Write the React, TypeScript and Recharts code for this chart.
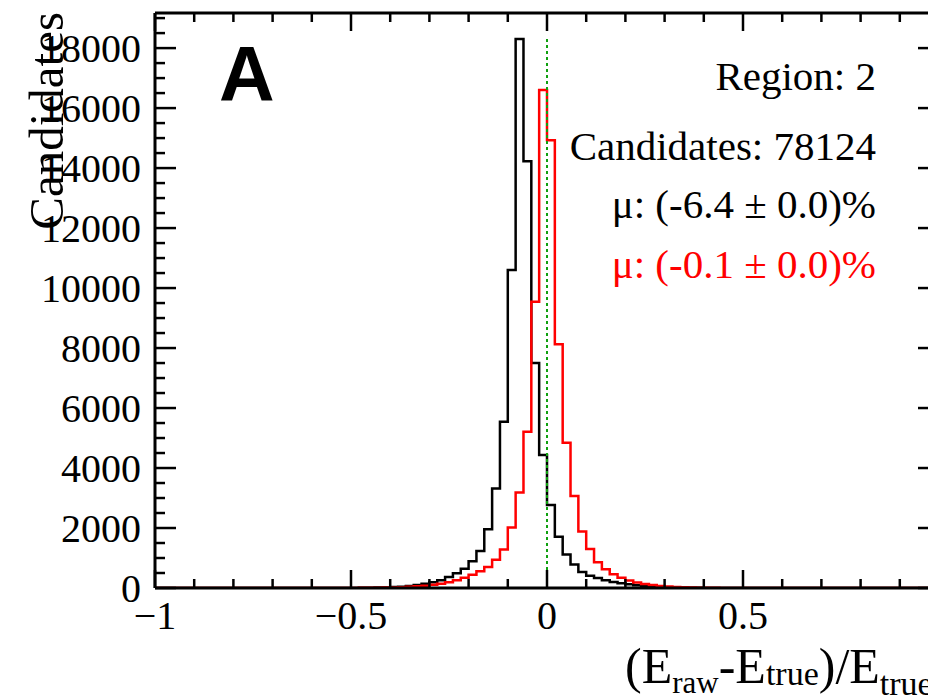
import { ComposedChart, Line, XAxis, YAxis, ReferenceLine } from "recharts";

const SERIF = "'Liberation Serif', 'Times New Roman', serif";
const SANS = "'Liberation Sans', Arial, sans-serif";

// 100 bins of width 0.02 between -1 and 1
const BIN_START = -1;
const BIN_WIDTH = 0.02;

// raw energy (black)
const rawCounts = [
    0, 0, 0, 0, 0, 0, 0, 0, 0, 0,
    0, 0, 0, 0, 0, 0, 0, 0, 0, 0,
    0, 0, 0, 1, 2, 3, 5, 8, 13, 20,
    30, 45, 70, 100, 140, 190, 260, 370, 490, 645,
    890, 1230, 1960, 3320, 5540, 10600, 18300, 14230, 7500, 4430,
    2770, 1710, 1120, 780, 530, 410, 330, 260, 200, 160,
    125, 95, 70, 50, 36, 25, 18, 12, 8, 5,
    3, 2, 1, 0, 0, 0, 0, 0, 0, 0,
    0, 0, 0, 0, 0, 0, 0, 0, 0, 0,
    0, 0, 0, 0, 0, 0, 0, 0, 0, 0,
];

// corrected energy (red)
const correctedCounts = [
    0, 0, 0, 0, 0, 0, 0, 0, 0, 0,
    0, 0, 0, 0, 0, 0, 0, 0, 0, 0,
    0, 0, 0, 1, 2, 3, 5, 7, 10, 14,
    20, 28, 40, 56, 78, 105, 145, 195, 260, 340,
    440, 560, 700, 940, 1280, 2020, 3180, 5210, 9540, 16600,
    14930, 8130, 4840, 3070, 1880, 1300, 860, 622, 460, 344,
    250, 180, 133, 100, 70, 50, 35, 25, 18, 12,
    8, 5, 3, 2, 1, 0, 0, 0, 0, 0,
    0, 0, 0, 0, 0, 0, 0, 0, 0, 0,
    0, 0, 0, 0, 0, 0, 0, 0, 0, 0,
];

const X_TICKS = [-1, -0.9, -0.8, -0.7, -0.6, -0.5, -0.4, -0.3, -0.2, -0.1, 0, 0.1, 0.2, 0.3, 0.4, 0.5, 0.6, 0.7, 0.8, 0.9, 1];
const X_LABELS: Record<string, string> = { "-1": "\u22121", "-0.5": "\u22120.5", "0": "0", "0.5": "0.5", "1": "1" };
const Y_MAX = 19170;
const Y_MINOR_STEP = 500;
const Y_LABELS = [0, 2000, 4000, 6000, 8000, 10000, 12000, 14000, 16000, 18000];
const Y_TICKS: number[] = [];
for (let v = 0; v <= Y_MAX; v += Y_MINOR_STEP) Y_TICKS.push(v);

const INFO_LINES = [
    { text: "Region: 2", color: "#000" },
    { text: "Candidates: 78124", color: "#000" },
    { text: "\u03bc: (-6.4 \u00b1 0.0)%", color: "#000" },
    { text: "\u03bc: (-0.1 \u00b1 0.0)%", color: "#ff0000" },
];
const INFO_BASELINES = [90, 160, 218, 278];

const histData = rawCounts.map((v, i) => ({
    x: +(BIN_START + i * BIN_WIDTH).toFixed(2),
    raw: v,
    corr: correctedCounts[i],
}));
// closing edge so the last step reaches x = 1
histData.push({ x: 1, raw: rawCounts[rawCounts.length - 1], corr: correctedCounts[correctedCounts.length - 1] });

const peak = Math.max(...rawCounts);
const TICK_W = 2.5;

function BottomTick({ x, y, payload }: any) {
    const label = X_LABELS[String(payload.value)];
    const len = label !== undefined ? 18 : 9;
    return (
        <g>
            <line x1={x} y1={y} x2={x} y2={y - len} stroke="#000" strokeWidth={TICK_W} />
            {label !== undefined && (
                <text x={x} y={y + 41} textAnchor="middle" fontSize={40} fontFamily={SERIF} fill="#000">
                    {label}
                </text>
            )}
        </g>
    );
}

function TopTick({ x, y, payload }: any) {
    const len = X_LABELS[String(payload.value)] !== undefined ? 18 : 9;
    return <line x1={x} y1={y} x2={x} y2={y + len} stroke="#000" strokeWidth={TICK_W} />;
}

function LeftTick({ x, y, payload }: any) {
    const major = Y_LABELS.includes(payload.value);
    return (
        <g>
            <line x1={x} y1={y} x2={x + (major ? 21 : 10)} y2={y} stroke="#000" strokeWidth={TICK_W} />
            {major && (
                <text x={x - 14} y={y + 14} textAnchor="end" fontSize={40} fontFamily={SERIF} fill="#000">
                    {payload.value}
                </text>
            )}
        </g>
    );
}

function RightTick({ x, y, payload }: any) {
    const major = Y_LABELS.includes(payload.value);
    return <line x1={x} y1={y} x2={x - (major ? 21 : 10)} y2={y} stroke="#000" strokeWidth={TICK_W} />;
}

function XTitle() {
    return (
        <text x={625} y={683} fontSize={50} fontFamily={SERIF} fill="#000">
            (E
            <tspan fontSize={31} dy={10}>raw</tspan>
            <tspan fontSize={50} dy={-10}>-E</tspan>
            <tspan fontSize={34} dy={2}>true</tspan>
            <tspan fontSize={50} dy={-2}>)/E</tspan>
            <tspan fontSize={34} dy={12}>true</tspan>
        </text>
    );
}

function YTitle() {
    return (
        <text
            x={63}
            y={12}
            transform="rotate(-90, 63, 12)"
            textAnchor="end"
            fontSize={49}
            fontFamily={SERIF}
            fill="#000"
        >
            Candidates
        </text>
    );
}

export default function App() {
    return (
        <div
            style={{
                position: "absolute",
                left: 0,
                top: 0,
                width: 928,
                height: 698,
                overflow: "hidden",
                background: "#fff",
            }}
        >
            <ComposedChart width={960} height={698} data={histData} margin={{ top: 0, right: 0, bottom: 0, left: 0 }}>
                <XAxis
                    dataKey="x"
                    type="number"
                    domain={[-1, 1]}
                    allowDataOverflow
                    ticks={X_TICKS}
                    interval={0}
                    height={110}
                    tickSize={0}
                    tickMargin={0}
                    tickLine={false}
                    axisLine={{ stroke: "#000", strokeWidth: 3 }}
                    tick={(p: any) => <BottomTick {...p} />}
                    label={() => <XTitle />}
                />
                <XAxis
                    xAxisId="top"
                    orientation="top"
                    dataKey="x"
                    type="number"
                    domain={[-1, 1]}
                    allowDataOverflow
                    ticks={X_TICKS}
                    interval={0}
                    height={13}
                    tickSize={0}
                    tickMargin={0}
                    tickLine={false}
                    axisLine={{ stroke: "#000", strokeWidth: 3 }}
                    tick={(p: any) => <TopTick {...p} />}
                />
                <YAxis
                    type="number"
                    domain={[0, Y_MAX]}
                    allowDataOverflow
                    ticks={Y_TICKS}
                    interval={0}
                    width={155}
                    tickSize={0}
                    tickMargin={0}
                    tickLine={false}
                    axisLine={{ stroke: "#000", strokeWidth: 3 }}
                    tick={(p: any) => <LeftTick {...p} />}
                    label={() => <YTitle />}
                />
                <YAxis
                    yAxisId="right"
                    orientation="right"
                    type="number"
                    domain={[0, Y_MAX]}
                    allowDataOverflow
                    ticks={Y_TICKS}
                    interval={0}
                    width={21}
                    tickSize={0}
                    tickMargin={0}
                    tickLine={false}
                    axisLine={{ stroke: "#000", strokeWidth: 3 }}
                    tick={(p: any) => <RightTick {...p} />}
                />
                <Line
                    dataKey="corr"
                    xAxisId="top"
                    yAxisId="right"
                    stroke="none"
                    dot={false}
                    activeDot={false}
                    isAnimationActive={false}
                />
                <Line
                    type="stepAfter"
                    dataKey="raw"
                    stroke="#000"
                    strokeWidth={2.5}
                    dot={false}
                    activeDot={false}
                    isAnimationActive={false}
                />
                <Line
                    type="stepAfter"
                    dataKey="corr"
                    stroke="#ff0000"
                    strokeWidth={2.5}
                    dot={false}
                    activeDot={false}
                    isAnimationActive={false}
                />
                <ReferenceLine
                    segment={[{ x: 0, y: 0 }, { x: 0, y: peak }]}
                    stroke="#10a010"
                    strokeWidth={2}
                    strokeDasharray="3 3"
                />
            </ComposedChart>
            <svg width={928} height={698} style={{ position: "absolute", left: 0, top: 0, pointerEvents: "none" }}>
                <text x={219} y={101} fontSize={77} fontWeight="bold" fontFamily={SANS} fill="#000">
                    A
                </text>
                {INFO_LINES.map((l, i) => (
                    <text
                        key={l.text}
                        x={876}
                        y={INFO_BASELINES[i]}
                        textAnchor="end"
                        fontSize={41}
                        fontFamily={SERIF}
                        fill={l.color}
                    >
                        {l.text}
                    </text>
                ))}
            </svg>
        </div>
    );
}
